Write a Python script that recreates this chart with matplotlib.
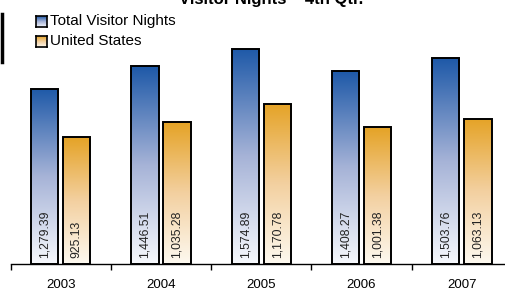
import numpy as np
import matplotlib
matplotlib.use("Agg")
from matplotlib import pyplot as plt
from matplotlib.colors import LinearSegmentedColormap
from matplotlib.lines import Line2D

plt.rcParams['font.family'] = ['Liberation Sans', 'DejaVu Sans']

years = ['2003', '2004', '2005', '2006', '2007']
total_nights = [1279.39, 1446.51, 1574.89, 1408.27, 1503.76]
us_nights = [925.13, 1035.28, 1170.78, 1001.38, 1063.13]
series_names = ['Total Visitor Nights', 'United States']
title = 'Visitor Nights \u2013 4th Qtr.'

# gradient colormaps (bottom -> top)
blue_cmap = LinearSegmentedColormap.from_list('b', ['#f6f8fc', '#a6b3d7', '#1e59a8'])
orange_cmap = LinearSegmentedColormap.from_list('o', ['#fdf9f0', '#f3d0a0', '#e5a326'])

W, H = 505, 290
fig = plt.figure(figsize=(W / 100, H / 100), dpi=100)
ax = fig.add_axes([10.5 / W, 26 / H, 494.5 / W, 264 / H])
ax.set_xlim(-0.5, -0.5 + 494.5 / 100.3)
ax.set_ylim(0, 1930)

x = np.arange(len(years))
off, bw = 0.16, 0.272
grad = np.linspace(0, 1, 256).reshape(-1, 1)


def gradient_bars(xs, vals, cmap):
    bars = ax.bar(xs, vals, width=bw, facecolor='none', edgecolor='black',
                  linewidth=1.4, zorder=3)
    for b in bars:
        x0, w, h = b.get_x(), b.get_width(), b.get_height()
        im = ax.imshow(grad, cmap=cmap, origin='lower', aspect='auto',
                       extent=(x0, x0 + w, 0, h), zorder=2)
        im.set_clip_path(b)
    return bars


gradient_bars(x - off, total_nights, blue_cmap)
gradient_bars(x + off, us_nights, orange_cmap)

for i in range(len(years)):
    for xx, v in ((x[i] - off, total_nights[i]), (x[i] + off, us_nights[i])):
        ax.text(xx, 45, '{:,.2f}'.format(v), rotation=90, ha='center', va='bottom',
                fontsize=8.8, color='#222222', zorder=4)

# axis: only the baseline, ticks at category boundaries
for s in ('left', 'right', 'top'):
    ax.spines[s].set_visible(False)
ax.spines['bottom'].set_linewidth(1.0)
ax.set_yticks([])
ax.set_xticks(np.arange(len(years)) - 0.5)
ax.set_xticklabels([])
ax.tick_params(axis='x', which='major', length=4, width=1, direction='out')
ax.set_xticks(x, minor=True)
ax.set_xticklabels(years, minor=True, fontsize=9.5)
ax.tick_params(axis='x', which='minor', length=0, pad=10.5)

# legend drawn by hand (gradient swatches)
for row, (name, cmap) in enumerate(zip(series_names, (blue_cmap, orange_cmap))):
    top = 16 + row * 20
    sw = fig.add_axes([36 / W, (H - top - 11) / H, 11 / W, 11 / H])
    sw.imshow(grad, cmap=cmap, origin='lower', aspect='auto')
    sw.set_xticks([])
    sw.set_yticks([])
    for s in sw.spines.values():
        s.set_linewidth(1.2)
    fig.text(50 / W, (H - top - 5) / H, name, fontsize=11, va='center', ha='left')

# title, mostly cut off by the top edge (as in the source image)
fig.text(271 / W, (H - 4) / H, title, fontsize=12, fontweight='bold',
         ha='center', va='baseline')

# black bar at the left edge
fig.add_artist(Line2D([1.5 / W, 1.5 / W], [(H - 14) / H, (H - 62) / H],
                      color='black', linewidth=2.5))

fig.savefig('out.png', dpi=100)
